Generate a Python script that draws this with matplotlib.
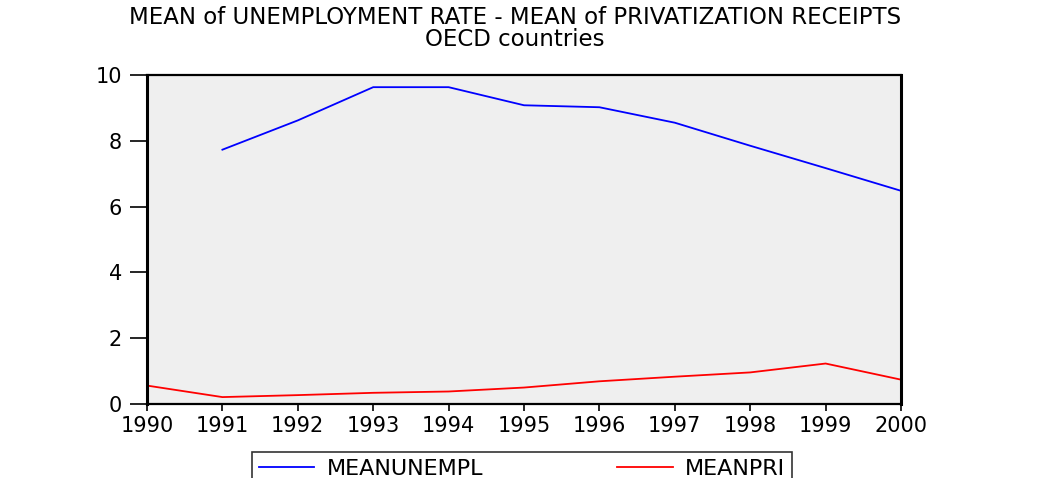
import matplotlib
matplotlib.use("Agg")
import matplotlib.pyplot as plt

years = [1990, 1991, 1992, 1993, 1994, 1995, 1996, 1997, 1998, 1999, 2000]
unempl_years = [1991, 1992, 1993, 1994, 1995, 1996, 1997, 1998, 1999, 2000]
meanunempl = [7.73, 8.62, 9.63, 9.63, 9.08, 9.02, 8.55, 7.85, 7.17, 6.48]
meanpri = [0.56, 0.21, 0.27, 0.34, 0.38, 0.50, 0.69, 0.83, 0.96, 1.23, 0.74]
yticks = [0, 2, 4, 6, 8, 10]

plt.rcParams['font.family'] = ['DejaVu Sans']

W, H = 1042, 478
fig = plt.figure(figsize=(W / 100, H / 100), dpi=100)
ax = fig.add_axes([147 / W, 1 - 404 / H, (901 - 147) / W, (404 - 75) / H])
ax.set_facecolor('#efefef')

l1, = ax.plot(unempl_years, meanunempl, color='#0000ff', lw=1.3, label='MEANUNEMPL')
l2, = ax.plot(years, meanpri, color='#ff0000', lw=1.3, label='MEANPRI')

ax.set_xlim(1990, 2000)
ax.set_ylim(0, 10)
ax.set_xticks(years)
ax.set_xticklabels([str(y) for y in years])
ax.set_yticks(yticks)
ax.set_yticklabels([str(v) for v in yticks])
ax.tick_params(axis='y', direction='out', length=12, width=1.2, labelsize=15, pad=6)
ax.tick_params(axis='x', direction='out', length=5, width=1.2, labelsize=15, pad=4)
for s in ['left', 'right']:
    ax.spines[s].set_linewidth(2.2)
for s in ['top', 'bottom']:
    ax.spines[s].set_linewidth(1.6)

fig.text(515 / W, 1 - 18 / H, 'MEAN of UNEMPLOYMENT RATE - MEAN of PRIVATIZATION RECEIPTS',
         ha='center', va='center', fontsize=16.5)
fig.text(515 / W, 1 - 40 / H, 'OECD countries', ha='center', va='center', fontsize=16.5)

leg = fig.legend(handles=[l1, l2], loc='upper left', ncol=2, mode='expand',
                 bbox_to_anchor=(252 / W, 0, (792 - 252) / W, 1 - 452 / H),
                 fontsize=16, frameon=True, fancybox=False, edgecolor='black',
                 handlelength=2.5, handletextpad=0.55, borderaxespad=0,
                 borderpad=0.3)
leg.get_frame().set_linewidth(1.2)

fig.savefig('out.png', dpi=100)
